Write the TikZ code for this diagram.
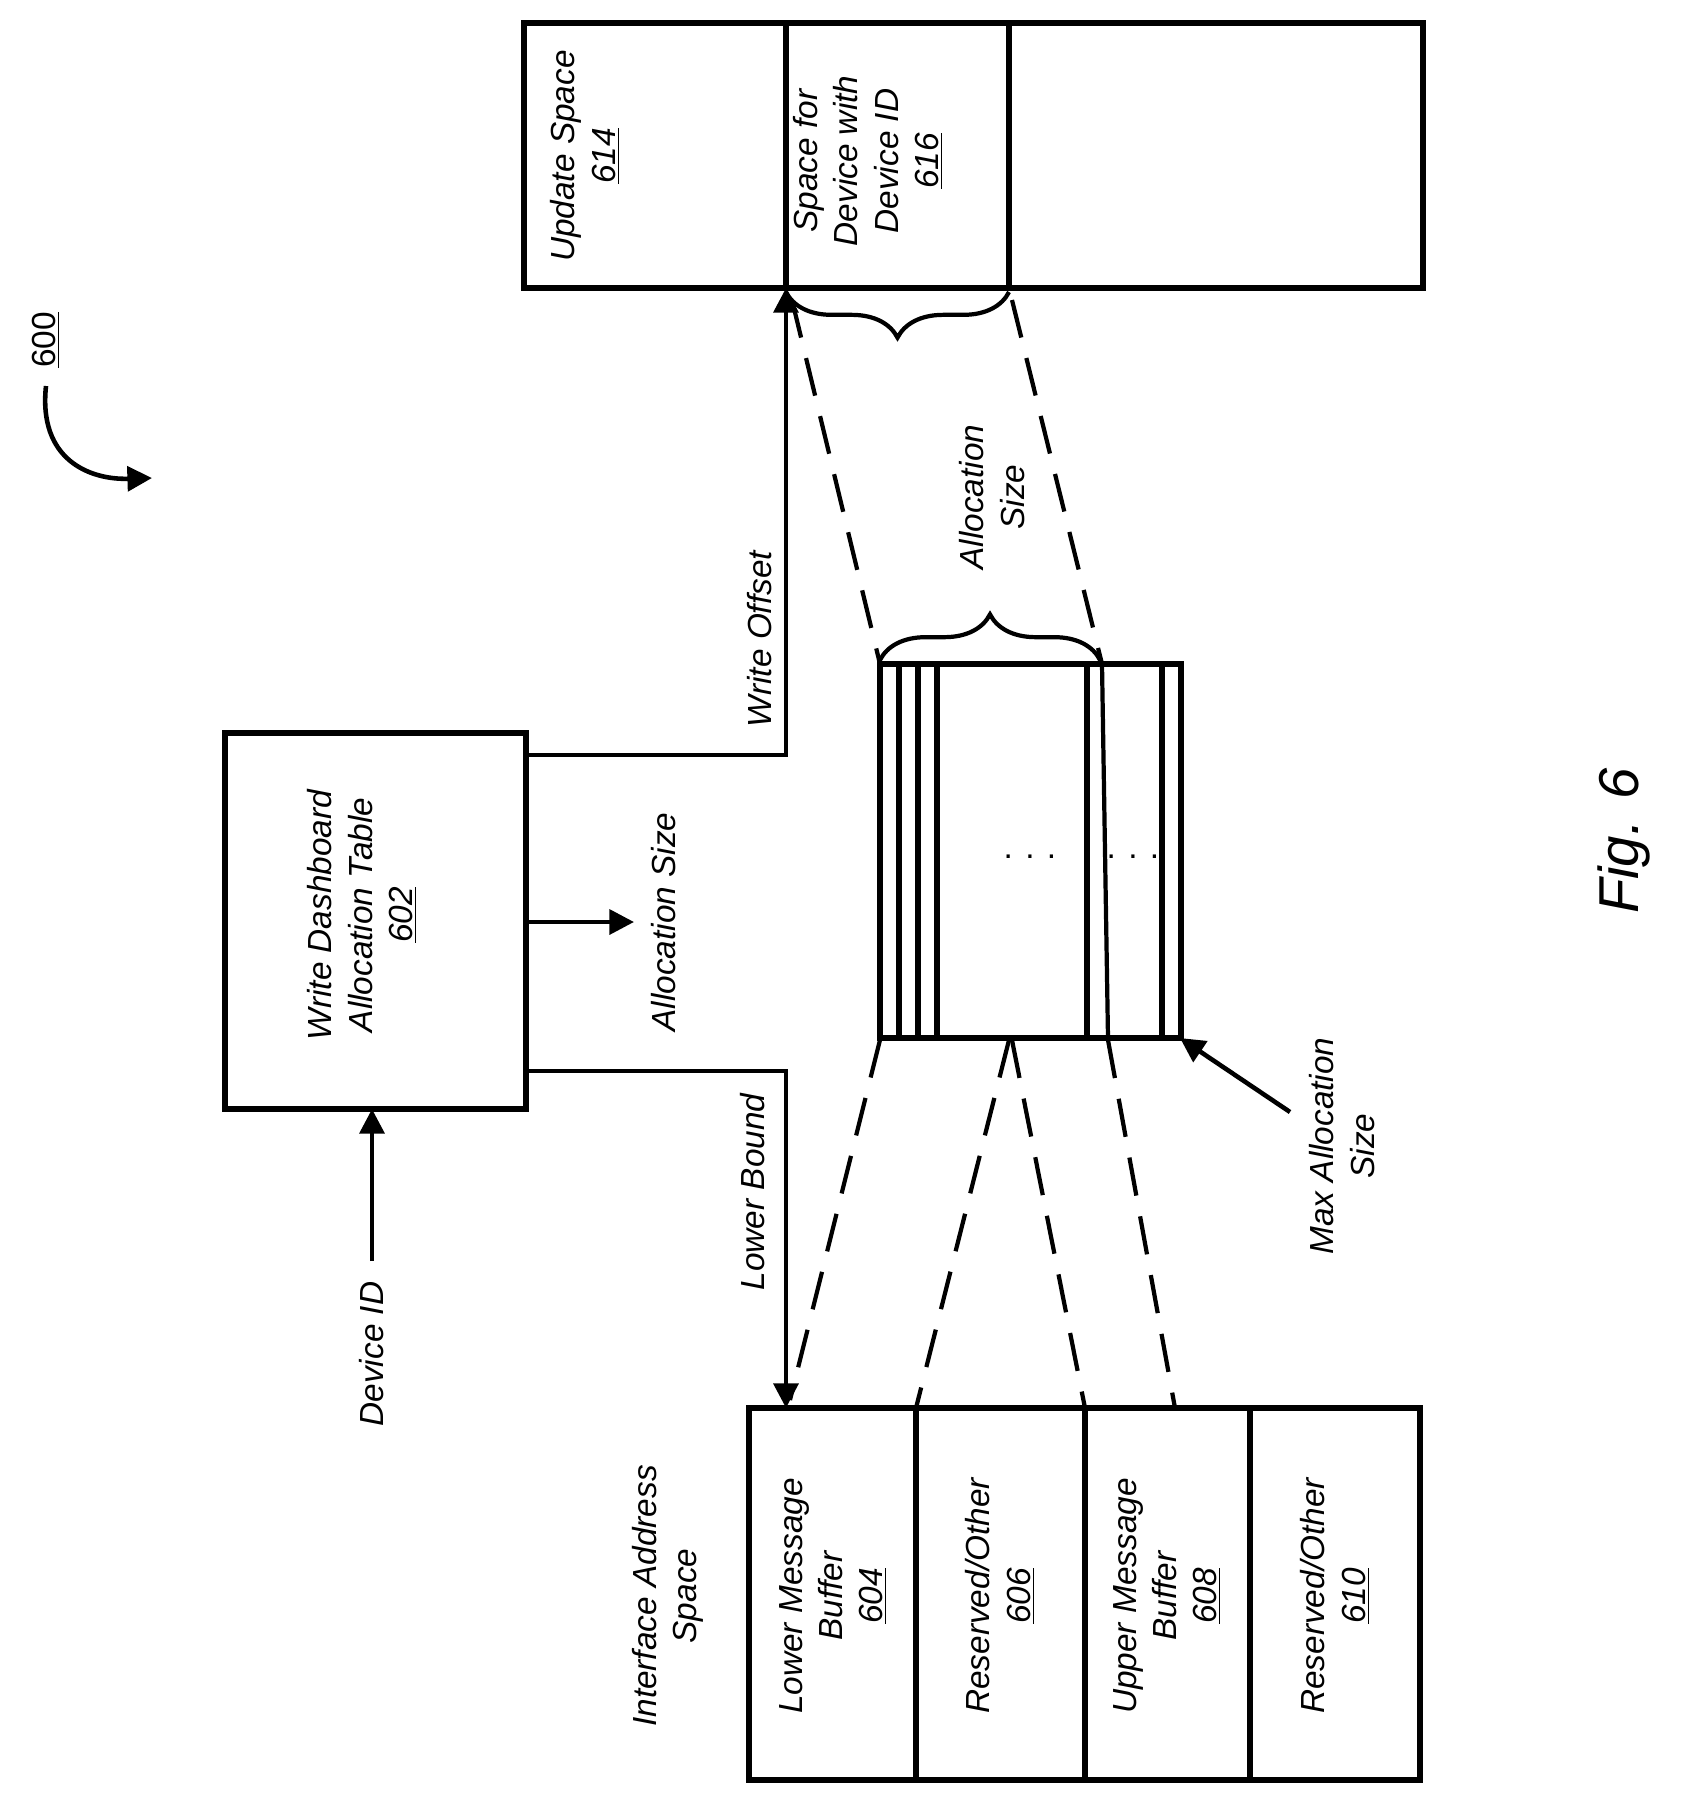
\documentclass[tikz,border=0pt]{standalone}
\usepackage{fontspec}
\setmainfont{Liberation Sans}
\usetikzlibrary{arrows.meta,decorations.pathreplacing}
\begin{document}
\begin{tikzpicture}[x=0.02cm,y=-0.02cm,
  box/.style={line width=3.2pt},
  arr/.style={line width=2.6pt,-{Triangle[length=14pt,width=14pt]}},
  dsh/.style={line width=2.4pt,dash pattern=on 22pt off 12pt},
  lbl/.style={rotate=90,font=\fontsize{19}{23}\selectfont\itshape,align=center,inner sep=0pt},
  br/.style={line width=2.4pt,decorate,decoration={brace,amplitude=26pt}}]
\useasboundingbox (0,0) rectangle (1689,1813);
% top box
\draw[box] (524,23) rectangle (1423,288);
\draw[box] (786,23) -- (786,288) (1009,23) -- (1009,288);
\node[lbl] (t614) at (585,156) {Update Space\\\underline{614}};
\node[lbl] (t616) at (868,161) {Space for\\Device with\\Device ID\\\underline{616}};
% dashboard
\draw[box] (225,733) rectangle (526,1109);
\node[lbl] (wd) at (362,915) {Write Dashboard\\Allocation Table\\\underline{602}};
\coordinate (wdR1) at (526,755);
\coordinate (wdR2) at (526,922);
\coordinate (wdR3) at (526,1071);
\coordinate (wdB) at (372,1109);
% bottom box
\draw[box] (749,1408) rectangle (1420,1780);
\draw[box] (916,1408) -- (916,1780) (1085,1408) -- (1085,1780) (1250,1408) -- (1250,1780);
\node[lbl] (b604) at (833,1596) {Lower Message\\Buffer\\\underline{604}};
\node[lbl] (b606) at (1000,1596) {Reserved/Other\\\underline{606}};
\node[lbl] (b608) at (1167,1596) {Upper Message\\Buffer\\\underline{608}};
\node[lbl] (b610) at (1335,1596) {Reserved/Other\\\underline{610}};
\node[lbl] (ias) at (668,1596) {Interface Address\\Space};
% middle box
\draw[box] (880,664) rectangle (1181,1038);
\foreach \x in {899,918,937,1087,1162} \draw[box] (\x,664) -- (\x,1038);
\node[font=\fontsize{19}{23}\selectfont] (d1) at (1030,857) {. . .};
\node[font=\fontsize{19}{23}\selectfont] (d2) at (1133,857) {. . .};
% arrows
\coordinate (wo) at (786,288);
\draw[arr] (wdR1) -- (786,755) -- (wo);
\coordinate (lb) at (786,1408);
\draw[arr] (wdR3) -- (786,1071) -- (lb);
\coordinate (as) at (634,922);
\draw[arr] (wdR2) -- (as);
\coordinate (di) at (372,1261);
\draw[arr] (di) -- (wdB);
\node[lbl] at (760,639) {Write Offset};
\node[lbl] at (753,1192) {Lower Bound};
\node[lbl] at (664,922) {Allocation Size};
\node[lbl] at (372,1354) {Device ID};
% max alloc
\coordinate (ma1) at (1290,1112);
\coordinate (ma2) at (1180,1038);
\draw[arr] (ma1) -- (ma2);
\node[lbl] at (1342,1146) {Max Allocation\\Size};
\node[lbl] at (992,497) {Allocation\\Size};
% braces
\draw[br] (1009,292) -- (786,292);
\draw[br] (880,660) -- (1100,660);
% dashed
\draw[dsh] (792,300) -- (880,664);
\draw[dsh] (1012,300) -- (1102,664);
\draw[line width=2.4pt] (1102,664) -- (1108,1038);
\draw[dsh] (880,1040) -- (790,1400);
\draw[dsh] (1009,1040) -- (916,1408);
\draw[dsh] (1012,1040) -- (1085,1408);
\draw[dsh] (1108,1040) -- (1175,1408);
% 600
\node[rotate=90,font=\fontsize{19}{23}\selectfont,inner sep=0pt] (n600) at (46,340) {\underline{600}};
\draw[line width=2.6pt,-{Triangle[length=14pt,width=14pt]}] (46,386) .. controls (38,460) and (90,480) .. (152,478);
\node[rotate=90,font=\fontsize{32}{36}\selectfont\itshape] (fig) at (1624,841) {Fig. 6};
\end{tikzpicture}
\end{document}
